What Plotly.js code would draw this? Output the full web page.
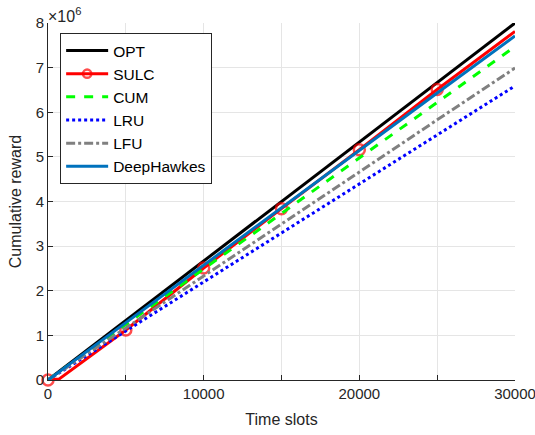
<!DOCTYPE html>
<html>
<head>
<meta charset="utf-8">
<script src="https://cdn.plot.ly/plotly-3.0.1.min.js"></script>
<style>html,body{margin:0;padding:0;background:#fff;}#chart{width:535px;height:435px;}</style>
</head>
<body>
<div id="chart"></div>
<script>
// Time slots and cumulative reward (in units of 1e6)
const slots = [0, 5000, 10000, 15000, 20000, 25000, 30000];
const optReward = [0, 1.33, 2.67, 4.00, 5.33, 6.67, 8.00];
const sulcSlots = [0, 700, 5000, 10000, 15000, 20000, 25000, 30000];
const sulcReward = [0, 0.02, 1.12, 2.51, 3.84, 5.16, 6.51, 7.81];
const sulcMarked = [true, false, true, true, true, true, true, false];
const cumReward = [0, 1.24, 2.49, 3.73, 4.98, 6.22, 7.47];
const lruReward = [0, 1.10, 2.20, 3.30, 4.39, 5.49, 6.59];
const lfuReward = [0, 1.17, 2.33, 3.50, 4.66, 5.83, 6.99];
const deepReward = [0, 1.29, 2.57, 3.86, 5.14, 6.43, 7.71];
const xTickVals = [0, 10000, 20000, 30000];
const xTickText = ['0', '10000', '20000', '30000'];
const yTickVals = [0, 1, 2, 3, 4, 5, 6, 7, 8];

const lw = 3;
const traces = [
  {x: slots, y: optReward, name: 'OPT', mode: 'lines', line: {color: '#000000', width: lw}},
  {x: sulcSlots, y: sulcReward, name: 'SULC', mode: 'lines+markers', cliponaxis: false,
   line: {color: '#ff0000', width: lw},
   marker: {symbol: 'circle-open', color: '#ff0000', size: sulcMarked.map(m => m ? 11 : 0), line: {width: 2.5, color: '#ff0000'}}},
  {x: slots, y: cumReward, name: 'CUM', mode: 'lines', line: {color: '#00ff00', width: lw, dash: 'dash'}},
  {x: slots, y: lruReward, name: 'LRU', mode: 'lines', line: {color: '#0000ff', width: lw, dash: 'dot'}},
  {x: slots, y: lfuReward, name: 'LFU', mode: 'lines', line: {color: '#808080', width: lw, dash: 'dashdot'}},
  {x: slots, y: deepReward, name: 'DeepHawkes', mode: 'lines', line: {color: '#0072bd', width: lw}}
];

const axCol = '#262626';
const layout = {
  width: 535, height: 435,
  margin: {l: 48, r: 20, t: 23, b: 55},
  paper_bgcolor: '#ffffff', plot_bgcolor: '#ffffff',
  font: {family: 'Liberation Sans, Arial, sans-serif', color: axCol, size: 15},
  showlegend: true,
  legend: {x: 0.026, y: 0.972, xanchor: 'left', yanchor: 'top', bgcolor: '#ffffff',
           bordercolor: axCol, borderwidth: 1, itemwidth: 42, font: {size: 15.5, color: '#000000'}},
  xaxis: {range: [0, 30000], tickmode: 'array', tickvals: xTickVals, ticktext: xTickText,
          ticks: 'inside', ticklen: 5, ticklabeloverflow: 'allow',
          tickcolor: axCol, showline: true, linecolor: axCol, linewidth: 1, mirror: false,
          showgrid: true, gridcolor: '#e5e5e5', gridwidth: 1, zeroline: false,
          minor: {dtick: 5000, tick0: 0, ticks: 'inside', ticklen: 5, tickcolor: axCol, showgrid: true, gridcolor: '#e5e5e5', gridwidth: 1},
          title: {text: 'Time slots', font: {size: 16}, standoff: 12}},
  yaxis: {range: [0, 8], tickvals: yTickVals, ticks: 'inside', ticklen: 5,
          tickcolor: axCol, showline: true, linecolor: axCol, linewidth: 1, mirror: false,
          showgrid: true, gridcolor: '#e5e5e5', gridwidth: 1, zeroline: false,
          title: {text: 'Cumulative reward', font: {size: 16}, standoff: 10}},
  annotations: [{xref: 'paper', yref: 'paper', x: 0, y: 1, xanchor: 'left', yanchor: 'bottom',
                 text: '×10<sup>6</sup>', showarrow: false, font: {size: 16, color: axCol}, xshift: -2, yshift: -4}]
};

Plotly.newPlot('chart', traces, layout, {displayModeBar: false, staticPlot: true});
</script>
</body>
</html>
